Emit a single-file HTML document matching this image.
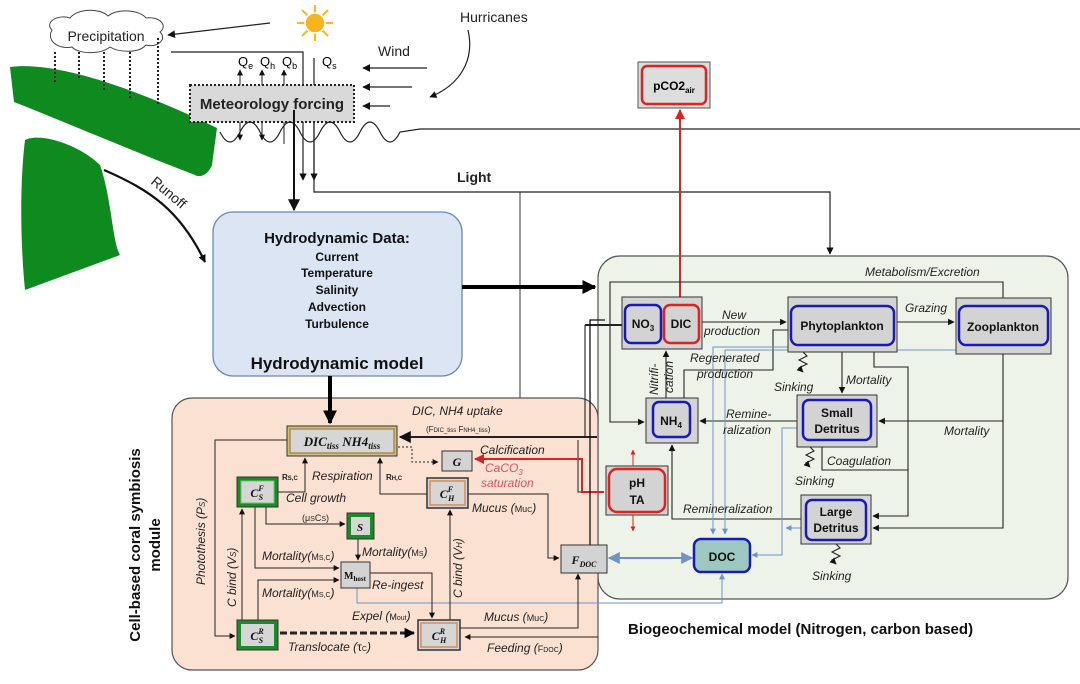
<!DOCTYPE html>
<html><head><meta charset="utf-8"><style>
body{margin:0;background:#fff}
svg{display:block;font-family:"Liberation Sans",sans-serif}
.it{font-style:italic;font-size:12px;fill:#222}
.b{font-weight:bold}
</style></head><body>
<svg width="1080" height="684" viewBox="0 0 1080 684" xmlns="http://www.w3.org/2000/svg">
<defs>
<marker id="a" viewBox="0 0 10 10" refX="9" refY="5" markerWidth="6" markerHeight="6" orient="auto-start-reverse"><path d="M0,0L10,5L0,10z" fill="#111"/></marker>
<marker id="ab" viewBox="0 0 10 10" refX="9" refY="5" markerWidth="3.5" markerHeight="3.5" orient="auto-start-reverse"><path d="M0,0L10,5L0,10z" fill="#000"/></marker>
<marker id="ar" viewBox="0 0 10 10" refX="9" refY="5" markerWidth="5" markerHeight="5" orient="auto-start-reverse"><path d="M0,0L10,5L0,10z" fill="#d22"/></marker>
<marker id="al" viewBox="0 0 10 10" refX="9" refY="5" markerWidth="6" markerHeight="6" orient="auto-start-reverse"><path d="M0,0L10,5L0,10z" fill="#6f93c6"/></marker>
</defs>

<!-- land -->
<path d="M10,67 C60,60 150,95 217,128 L212,165 C208,175 200,178 195,175 C130,150 60,120 14,102 Z" fill="#0f8a1e"/>
<path d="M25,140 C40,132 80,145 100,165 C112,200 112,240 120,255 L25,290 C20,240 20,180 25,140 Z" fill="#0f8a1e"/>

<!-- cloud -->
<path d="M52,30 C44,22 58,14 70,18 C78,8 100,8 108,16 C118,8 140,10 146,18 C160,16 168,26 160,32 C168,40 156,48 146,45 C138,54 118,52 110,47 C100,55 78,54 72,47 C58,50 46,40 52,30 Z" fill="#fff" stroke="#444" stroke-width="1"/>
<text x="106" y="41" font-size="14" text-anchor="middle" fill="#222">Precipitation</text>
<g stroke="#222" stroke-width="2" stroke-dasharray="2,2">
<line x1="55" y1="52" x2="55" y2="84"/><line x1="79" y1="52" x2="79" y2="80"/><line x1="104" y1="52" x2="104" y2="90"/><line x1="130" y1="52" x2="130" y2="98"/><line x1="158" y1="38" x2="158" y2="104"/></g>
<line x1="270" y1="23" x2="168" y2="35" stroke="#222" stroke-width="1.3" marker-end="url(#a)"/>

<!-- sun -->
<g transform="translate(315,23)" stroke="#f7bb2a" stroke-width="2.2">
<line x1="0" y1="-18" x2="0" y2="18"/><line x1="-18" y1="0" x2="18" y2="0"/><line x1="-13" y1="-13" x2="13" y2="13"/><line x1="-13" y1="13" x2="13" y2="-13"/></g>
<circle cx="315" cy="23" r="10" fill="#f6b41e" stroke="#fff" stroke-width="1.5"/>

<text x="460" y="22" font-size="14" fill="#222">Hurricanes</text>
<path d="M468,30 C475,60 460,85 430,97" fill="none" stroke="#222" stroke-width="1.2" marker-end="url(#a)"/>
<text x="378" y="56" font-size="14" fill="#222">Wind</text>
<line x1="427" y1="68" x2="363" y2="68" stroke="#222" stroke-width="1.3" marker-end="url(#a)"/>
<line x1="412" y1="87" x2="363" y2="87" stroke="#222" stroke-width="1.3" marker-end="url(#a)"/>
<line x1="390" y1="106" x2="363" y2="106" stroke="#222" stroke-width="1.3" marker-end="url(#a)"/>

<!-- Q lines -->
<polyline points="171,52 303,52 303,85" fill="none" stroke="#222" stroke-width="1.2"/>
<line x1="314" y1="58" x2="314" y2="85" stroke="#222" stroke-width="1.2"/>
<text x="238" y="66" font-size="13">Q<tspan font-size="9" dy="3">e</tspan></text>
<text x="260" y="66" font-size="13">Q<tspan font-size="9" dy="3">h</tspan></text>
<text x="282" y="66" font-size="13">Q<tspan font-size="9" dy="3">b</tspan></text>
<text x="322" y="66" font-size="13">Q<tspan font-size="9" dy="3">s</tspan></text>
<line x1="240" y1="85" x2="240" y2="70" stroke="#222" marker-end="url(#a)"/>
<line x1="262" y1="85" x2="262" y2="70" stroke="#222" marker-end="url(#a)"/>
<line x1="284" y1="85" x2="284" y2="70" stroke="#222" marker-end="url(#a)"/>

<rect x="190" y="85" width="164" height="37" fill="#d9d9d9" stroke="#222" stroke-width="2" stroke-dasharray="2,2"/>
<text x="272" y="109" font-size="15" class="b" text-anchor="middle" fill="#222">Meteorology forcing</text>

<!-- sea surface -->
<path d="M220,132 q10,20 20,0 t20,0 t20,0 t20,0 t20,0 t20,0 t20,0 t20,0 t20,0 L420,129 L1080,129" fill="none" stroke="#222" stroke-width="1.2"/>
<line x1="240" y1="122" x2="240" y2="140" stroke="#222" marker-end="url(#a)"/>
<line x1="262" y1="122" x2="262" y2="140" stroke="#222" marker-end="url(#a)"/>
<line x1="284" y1="122" x2="284" y2="144" stroke="#222"/>
<line x1="303" y1="122" x2="303" y2="180" stroke="#222" stroke-width="1.2" marker-end="url(#a)"/>
<line x1="294" y1="110" x2="294" y2="210" stroke="#111" stroke-width="2" marker-end="url(#a)"/>
<polyline points="314,122 314,192 830,192 830,254" fill="none" stroke="#222" stroke-width="1.2" marker-end="url(#a)"/>
<line x1="314" y1="122" x2="314" y2="180" stroke="#222" stroke-width="1.2" marker-end="url(#a)"/>
<text x="457" y="182" font-size="14" class="b" fill="#222">Light</text>
<line x1="520" y1="192" x2="520" y2="408" stroke="#333" stroke-width="1" marker-end="url(#a)"/>

<!-- runoff -->
<path d="M104,170 C150,190 180,210 205,262" fill="none" stroke="#111" stroke-width="2.2" marker-end="url(#ab)"/>
<text x="150" y="183" font-size="14" fill="#222" transform="rotate(40 150 183)">Runoff</text>

<!-- hydro -->
<rect x="213" y="212" width="249" height="164" rx="20" fill="#dce5f4" stroke="#6a87b8" stroke-width="1.3"/>
<g font-size="12" class="b" text-anchor="middle" fill="#111">
<text x="337" y="243" font-size="15">Hydrodynamic Data:</text>
<text x="337" y="261">Current</text><text x="337" y="277">Temperature</text><text x="337" y="294">Salinity</text><text x="337" y="311">Advection</text><text x="337" y="328">Turbulence</text>
<text x="337" y="369" font-size="17">Hydrodynamic model</text></g>

<!-- bio box -->
<rect x="598" y="256" width="470" height="343" rx="22" fill="#eef3e9" stroke="#555" stroke-width="1.2"/>
<line x1="462" y1="287" x2="595" y2="287" stroke="#000" stroke-width="4" marker-end="url(#ab)"/>

<!-- coral box -->
<rect x="172" y="398" width="426" height="272" rx="20" fill="#fbe1d2" stroke="#555" stroke-width="1.2"/>
<line x1="330" y1="376" x2="330" y2="423" stroke="#000" stroke-width="4" marker-end="url(#ab)"/>

<text transform="translate(140,545) rotate(-90)" font-size="15" class="b" text-anchor="middle" fill="#111">Cell-based coral symbiosis</text>
<text transform="translate(160,545) rotate(-90)" font-size="15" class="b" text-anchor="middle" fill="#111">module</text>
<text x="628" y="634" font-size="15" class="b" fill="#111">Biogeochemical model (Nitrogen, carbon based)</text>

<!-- pCO2 -->
<rect x="638" y="62" width="72" height="46" fill="#ddd" stroke="#555"/>
<rect x="642" y="66" width="64" height="38" rx="5" fill="#ddd" stroke="#d22" stroke-width="2.5"/>
<text x="674" y="90" font-size="12" class="b" text-anchor="middle">pCO2<tspan font-size="8" dy="3">air</tspan></text>
<line x1="680" y1="302" x2="680" y2="110" stroke="#d22" stroke-width="2" marker-end="url(#ar)"/>

<!-- bio lines -->
<g stroke="#222" stroke-width="1.1" fill="none">
<polyline points="1003,298 1003,282 610,282 610,422 644,422" marker-end="url(#a)"/>
<line x1="702" y1="322" x2="786" y2="322" marker-end="url(#a)"/>
<line x1="897" y1="322" x2="954" y2="322" marker-end="url(#a)"/>
<polyline points="684,398 684,370 773,370 773,330 788,330"/>
<line x1="666" y1="398" x2="666" y2="351" marker-end="url(#a)"/>
<line x1="842" y1="352" x2="842" y2="393" marker-end="url(#a)"/>
<polyline points="874,352 874,367 908,367 908,516 873,516" marker-end="url(#a)"/>
<polyline points="1003,354 1003,528 873,528" marker-end="url(#a)"/>
<line x1="1003" y1="421" x2="879" y2="421" marker-end="url(#a)"/>
<line x1="797" y1="421" x2="700" y2="421" marker-end="url(#a)"/>
<polyline points="801,519 672,519 672,445" marker-end="url(#a)"/>
<polyline points="822,447 822,470 908,470"/>
<line x1="585" y1="325" x2="622" y2="325" stroke-width="2"/>
<polyline points="585,325 585,437 578,437"/>
</g>
<g stroke="#6f93c6" stroke-width="1" fill="none">
<polyline points="788,347 713,347 713,534" marker-end="url(#al)"/>
<polyline points="956,350 725,350 725,534" marker-end="url(#al)"/>
<polyline points="797,428 782,428 782,555 752,555" marker-end="url(#al)"/>
<line x1="801" y1="528" x2="786" y2="528" marker-end="url(#al)"/>
<line x1="609" y1="558" x2="692" y2="558" stroke-width="2" marker-start="url(#al)" marker-end="url(#al)"/>
<polyline points="357,588 357,603 722,603 722,574" marker-end="url(#al)"/>
</g>
<g stroke="#222" stroke-width="1.1" fill="none">
<path d="M803,352 l4,4 -8,4 8,4 -8,4 4,4" marker-end="url(#a)"/>
<path d="M810,447 l4,4 -8,4 8,4 -8,4 4,4" marker-end="url(#a)"/>
<path d="M836,544 l4,4 -8,4 8,4 -8,4 4,4" marker-end="url(#a)"/>
</g>
<g class="it">
<text x="865" y="276">Metabolism/Excretion</text>
<text x="722" y="319">New</text><text x="704" y="335">production</text>
<text x="905" y="312">Grazing</text>
<text x="690" y="362">Regenerated</text><text x="697" y="378">production</text>
<text x="774" y="391">Sinking</text>
<text x="846" y="384">Mortality</text>
<text x="726" y="418">Remine-</text><text x="723" y="434">ralization</text>
<text x="944" y="435">Mortality</text>
<text x="827" y="465">Coagulation</text>
<text x="795" y="485">Sinking</text>
<text x="683" y="513">Remineralization</text>
<text x="812" y="580">Sinking</text>
<text transform="translate(658,395) rotate(-90)">Nitrifi-</text>
<text transform="translate(673,393) rotate(-90)">cation</text>
</g>

<!-- bio nodes -->
<g font-size="12" class="b" text-anchor="middle" fill="#111">
<rect x="622" y="297" width="80" height="52" fill="#d3d3d3" stroke="#333"/>
<rect x="625" y="305" width="36" height="38" rx="6" fill="#d3d3d3" stroke="#1919b5" stroke-width="2.5"/>
<rect x="664" y="305" width="35" height="38" rx="6" fill="#d3d3d3" stroke="#d22" stroke-width="2.5"/>
<text x="643" y="328">NO<tspan font-size="8" dy="3">3</tspan></text><text x="681" y="328">DIC</text>
<rect x="788" y="297" width="109" height="55" fill="#d3d3d3" stroke="#333"/>
<rect x="791" y="306" width="103" height="39" rx="7" fill="#d3d3d3" stroke="#1919b5" stroke-width="2.5"/>
<text x="842" y="330">Phytoplankton</text>
<rect x="956" y="298" width="95" height="56" fill="#d3d3d3" stroke="#333"/>
<rect x="959" y="306" width="89" height="39" rx="7" fill="#d3d3d3" stroke="#1919b5" stroke-width="2.5"/>
<text x="1003" y="331">Zooplankton</text>
<rect x="646" y="398" width="52" height="45" fill="#d3d3d3" stroke="#333"/>
<rect x="653" y="402" width="37" height="35" rx="6" fill="#d3d3d3" stroke="#1919b5" stroke-width="2.5"/>
<text x="671" y="425">NH<tspan font-size="8" dy="3">4</tspan></text>
<rect x="797" y="395" width="80" height="52" fill="#d3d3d3" stroke="#333"/>
<rect x="803" y="400" width="68" height="40" rx="6" fill="#d3d3d3" stroke="#1919b5" stroke-width="2.5"/>
<text x="837" y="417">Small</text><text x="837" y="433">Detritus</text>
<rect x="801" y="495" width="70" height="49" fill="#d3d3d3" stroke="#333"/>
<rect x="806" y="500" width="60" height="40" rx="6" fill="#d3d3d3" stroke="#1919b5" stroke-width="2.5"/>
<text x="836" y="516">Large</text><text x="836" y="532">Detritus</text>
<rect x="606" y="466" width="62" height="49" fill="#d3d3d3" stroke="#333"/>
<rect x="609" y="469" width="56" height="43" rx="8" fill="#d3d3d3" stroke="#d22" stroke-width="2.5"/>
<text x="637" y="487">pH</text><text x="637" y="504">TA</text>
<rect x="694" y="539" width="56" height="33" rx="7" fill="#9dc8c1" stroke="#1919b5" stroke-width="2.5"/>
<text x="722" y="561">DOC</text>
</g>
<line x1="633" y1="466" x2="633" y2="450" stroke="#d22" marker-end="url(#ar)"/>
<line x1="633" y1="515" x2="633" y2="531" stroke="#d22" marker-end="url(#ar)"/>

<!-- coral lines -->
<g stroke="#222" stroke-width="1" fill="none">
<line x1="597" y1="437" x2="400" y2="437" stroke-width="2" marker-end="url(#a)"/>
<polyline points="604,492 578,492 578,440"/>
<polyline points="398,447 412,447 412,462 438,462" stroke-dasharray="2,2" marker-end="url(#a)"/>
<polyline points="278,492 305,492 305,458" marker-end="url(#a)"/>
<polyline points="427,494 380,494 380,458" marker-end="url(#a)"/>
<polyline points="287,440 215,440 215,636 235,636" marker-end="url(#a)"/>
<line x1="242" y1="620" x2="242" y2="509" marker-end="url(#a)"/>
<polyline points="266,507 266,524 345,524" marker-end="url(#a)"/>
<polyline points="255,507 255,568 339,568" marker-end="url(#a)"/>
<polyline points="258,620 258,580 339,580" marker-end="url(#a)"/>
<line x1="358" y1="539" x2="358" y2="560" marker-end="url(#a)"/>
<polyline points="370,573 432,573 432,618" marker-end="url(#a)"/>
<line x1="450" y1="620" x2="450" y2="510" marker-end="url(#a)"/>
<polyline points="468,494 548,494 548,558 559,558" marker-end="url(#a)"/>
<polyline points="460,628 578,628 578,574" marker-end="url(#a)"/>
<polyline points="598,637 465,637" marker-end="url(#a)"/>
<line x1="280" y1="633" x2="414" y2="633" stroke-width="3" stroke-dasharray="7,3" marker-end="url(#ab)"/>
</g>
<polyline points="604,492 582,492 582,459 475,459" fill="none" stroke="#d22" stroke-width="2" marker-end="url(#ar)"/>
<polyline points="605,320 590,320 590,560 607,560" fill="none" stroke="#111" stroke-width="1.3"/>
<g class="it" font-size="12">
<text x="412" y="415">DIC, NH4 uptake</text>
<text x="426" y="432" font-size="8" font-style="normal">(F<tspan font-size="6">DIC_tiss</tspan> F<tspan font-size="6">NH4_tiss</tspan>)</text>
<text x="480" y="454">Calcification</text>
<text x="485" y="472" fill="#e0506a">CaCO<tspan font-size="8" dy="3">3</tspan></text>
<text x="481" y="487" fill="#e0506a">saturation</text>
<text x="312" y="480">Respiration</text>
<text x="282" y="480" font-size="8" font-weight="bold" font-style="normal">R<tspan font-size="6">S,C</tspan></text>
<text x="386" y="480" font-size="8" font-weight="bold" font-style="normal">R<tspan font-size="6">H,C</tspan></text>
<text x="286" y="502">Cell growth</text>
<text x="302" y="521" font-size="9" font-style="normal">(μ<tspan font-size="7">S</tspan>C<tspan font-size="7">S</tspan>)</text>
<text x="472" y="512">Mucus (<tspan font-size="9" font-style="normal">Mu<tspan font-size="7">C</tspan></tspan>)</text>
<text x="262" y="560">Mortality(<tspan font-size="9" font-style="normal">M<tspan font-size="7">S,C</tspan></tspan>)</text>
<text x="362" y="556">Mortality(<tspan font-size="9" font-style="normal">M<tspan font-size="7">S</tspan></tspan>)</text>
<text x="262" y="597">Mortality(<tspan font-size="9" font-style="normal">M<tspan font-size="7">S,C</tspan></tspan>)</text>
<text x="372" y="589">Re-ingest</text>
<text x="352" y="620">Expel (<tspan font-size="9" font-style="normal">M<tspan font-size="7">out</tspan></tspan>)</text>
<text x="484" y="621">Mucus (<tspan font-size="9" font-style="normal">Mu<tspan font-size="7">C</tspan></tspan>)</text>
<text x="288" y="651">Translocate (<tspan font-style="normal">τ<tspan font-size="7">C</tspan></tspan>)</text>
<text x="487" y="652">Feeding (<tspan font-size="9" font-style="normal">F<tspan font-size="7">DOC</tspan></tspan>)</text>
<text transform="translate(205,585) rotate(-90)">Photothesis (P<tspan font-size="8">S</tspan>)</text>
<text transform="translate(236,607) rotate(-90)">C bind (V<tspan font-size="8">S</tspan>)</text>
<text transform="translate(462,598) rotate(-90)">C bind (V<tspan font-size="8">H</tspan>)</text>
</g>

<!-- coral nodes -->
<g font-family="Liberation Serif,serif" font-style="italic" font-weight="bold" text-anchor="middle" fill="#111">
<rect x="287" y="426" width="110" height="30" fill="#c9c07a" stroke="#333"/>
<rect x="290" y="429" width="104" height="24" fill="#d6d6d6" stroke="#b08a50" stroke-width="1.5"/>
<text x="342" y="446" font-size="13">DIC<tspan font-size="9" dy="3">tiss</tspan><tspan dy="-3"> NH4</tspan><tspan font-size="9" dy="3">tiss</tspan></text>
<rect x="442" y="451" width="30" height="20" fill="#d3d3d3" stroke="#333"/>
<text x="457" y="466" font-size="12">G</text>
<rect x="237" y="477" width="41" height="30" fill="#1d8a2a" stroke="#333"/>
<rect x="241" y="481" width="33" height="22" fill="#d6d6d6" stroke="#6c6" stroke-width="1"/>
<text x="257" y="497" font-size="12">C<tspan font-size="8" dy="-6">F</tspan><tspan font-size="8" dx="-5" dy="9">S</tspan></text>
<rect x="427" y="478" width="41" height="30" fill="#d6d6d6" stroke="#333" stroke-width="1.5"/>
<rect x="430" y="481" width="35" height="24" fill="#d6d6d6" stroke="#d98a5a" stroke-width="1.5"/>
<text x="447" y="498" font-size="12">C<tspan font-size="8" dy="-6">F</tspan><tspan font-size="8" dx="-5" dy="9">H</tspan></text>
<rect x="347" y="513" width="27" height="26" fill="#1d8a2a" stroke="#333"/>
<rect x="351" y="517" width="19" height="18" fill="#d6d6d6"/>
<text x="360" y="531" font-size="11">S</text>
<rect x="341" y="562" width="29" height="26" fill="#d3d3d3" stroke="#333"/>
<text x="355" y="579" font-size="10" font-style="normal">M<tspan font-size="7" dy="2">host</tspan></text>
<rect x="237" y="620" width="41" height="30" fill="#1d8a2a" stroke="#333"/>
<rect x="241" y="624" width="33" height="22" fill="#d6d6d6"/>
<text x="257" y="640" font-size="12">C<tspan font-size="8" dy="-6">R</tspan><tspan font-size="8" dx="-5" dy="9">S</tspan></text>
<rect x="418" y="620" width="42" height="30" fill="#d6d6d6" stroke="#333" stroke-width="1.5"/>
<rect x="421" y="623" width="36" height="24" fill="#d6d6d6" stroke="#d98a5a" stroke-width="1.5"/>
<text x="439" y="640" font-size="12">C<tspan font-size="8" dy="-6">R</tspan><tspan font-size="8" dx="-5" dy="9">H</tspan></text>
<rect x="561" y="545" width="46" height="28" fill="#d3d3d3" stroke="#333"/>
<text x="584" y="564" font-size="12">F<tspan font-size="8" dy="3">DOC</tspan></text>
</g>
</svg>
</body></html>
